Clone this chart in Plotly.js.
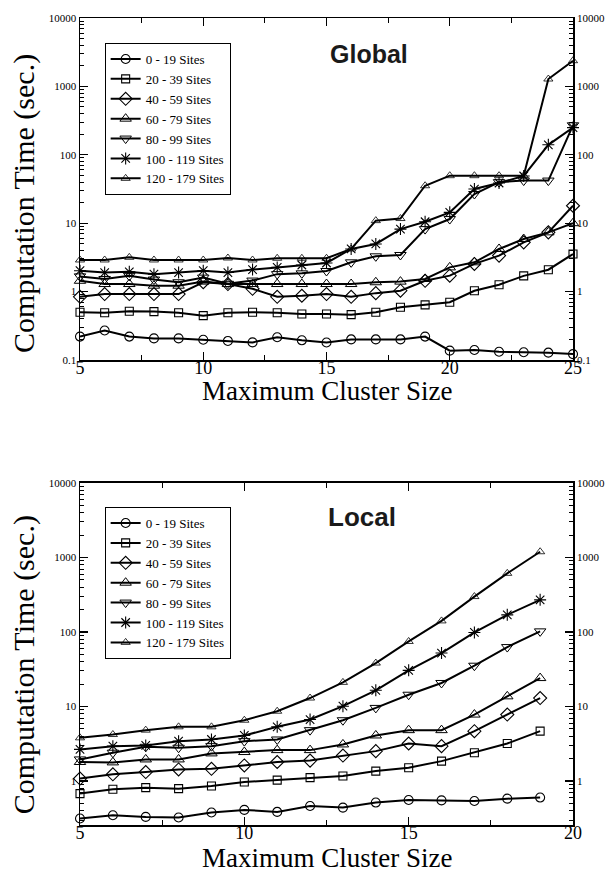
<!DOCTYPE html>
<html>
<head>
<meta charset="utf-8">
<script src="https://cdn.plot.ly/plotly-3.0.1.min.js"></script>
<style>html,body{margin:0;padding:0;background:#fff;}#chart{width:613px;height:871px;}</style>
</head>
<body>
<div id="chart"></div>
<script>
// ---------- DATA ----------
const seriesNames = ['0 - 19 Sites','20 - 39 Sites','40 - 59 Sites','60 - 79 Sites','80 - 99 Sites','100 - 119 Sites','120 - 179 Sites'];

// Global: maximum cluster size 5..25
const globalX = [5,6,7,8,9,10,11,12,13,14,15,16,17,18,19,20,21,22,23,24,25];
const global0_19    = [0.22,0.27,0.22,0.207,0.207,0.198,0.19,0.181,0.215,0.194,0.18,0.2,0.2,0.2,0.22,0.137,0.14,0.132,0.13,0.128,0.122];
const global20_39   = [0.5,0.49,0.515,0.51,0.49,0.445,0.49,0.5,0.49,0.47,0.47,0.46,0.5,0.59,0.64,0.70,1.03,1.26,1.7,2.09,3.55];
const global40_59   = [0.84,0.92,0.92,0.92,0.92,1.37,1.29,1.1,0.84,0.87,0.92,0.84,0.95,1.03,1.44,1.71,2.54,3.36,5.25,7.35,18];
const global60_79   = [1.44,1.29,1.29,1.22,1.22,1.4,1.29,1.29,1.29,1.29,1.29,1.29,1.37,1.4,1.53,2.26,2.68,4.2,5.87,7.35,10];
const global80_99   = [1.67,1.53,1.7,1.5,1.37,1.6,1.3,1.45,1.8,1.85,2.0,2.68,3.28,3.43,8.2,11.5,26.7,39.8,42,42,270];
const global100_119 = [2.02,1.9,1.95,1.8,1.9,2.02,1.9,2.1,2.26,2.45,2.62,4.2,4.97,8.2,10.5,14.4,31.6,38.7,49,140,250];
const global120_179 = [2.9,2.9,3.17,2.9,2.9,2.9,3.1,2.9,3.07,3.07,3.07,4.2,10.9,11.7,35.3,49.5,49.5,49.5,49.5,1282,2376];

// Local: maximum cluster size 5..19
const localX = [5,6,7,8,9,10,11,12,13,14,15,16,17,18,19];
const local0_19    = [0.314,0.347,0.33,0.324,0.378,0.41,0.385,0.463,0.44,0.514,0.557,0.55,0.54,0.58,0.6];
const local20_39   = [0.678,0.776,0.815,0.79,0.857,0.97,1.03,1.11,1.17,1.36,1.51,1.85,2.4,3.19,4.67];
const local40_59   = [1.08,1.23,1.32,1.43,1.46,1.62,1.8,1.88,2.2,2.52,3.19,2.94,4.67,7.8,13.0];
const local60_79   = [1.8,1.78,1.95,1.95,2.35,2.45,2.6,2.6,3.1,4.09,4.82,4.82,7.8,13.7,24.1];
const local80_99   = [1.95,2.4,2.88,2.8,2.94,3.43,3.61,4.82,6.55,9.58,14.4,20.7,35.3,62.8,102];
const local100_119 = [2.66,2.94,3.0,3.43,3.61,4.09,5.34,6.69,10.1,16.5,30.6,52.2,98.6,170,270];
const local120_179 = [3.8,4.21,4.82,5.34,5.34,6.55,8.65,13.0,21.1,38.3,74.7,141,299,613,1195];

const yTickVals = [0.1,1,10,100,1000,10000];
const yTickText = ['0.1','1','10','100','1000','10000'];
const xTicksGlobal = [5,10,15,20,25];
const xTicksLocal = [5,10,15,20];

const xTitle = 'Maximum Cluster Size';
const yTitle = 'Computation Time (sec.)';

// ---------- STYLE ----------
const symbols = ['circle-open','square-open','diamond-open','triangle-up-open','triangle-down-open','asterisk-open','triangle-up-open'];
const sizes = [9,8,10,10,10,10,8];
const mlw = [1.1,1.1,1.1,1.0,1.0,1.1,0.8];
const globalSeries = [global0_19,global20_39,global40_59,global60_79,global80_99,global100_119,global120_179];
const localSeries = [local0_19,local20_39,local40_59,local60_79,local80_99,local100_119,local120_179];

const traces = [];
globalSeries.forEach((ys,i)=>{
  traces.push({x:globalX,y:ys,name:seriesNames[i],type:'scatter',mode:'lines+markers',xaxis:'x',yaxis:'y',legend:'legend',
    line:{color:'black',width:2},marker:{symbol:symbols[i],size:sizes[i],color:'black',line:{color:'black',width:mlw[i]}},cliponaxis:false});
});
localSeries.forEach((ys,i)=>{
  traces.push({x:localX,y:ys,name:seriesNames[i],type:'scatter',mode:'lines+markers',xaxis:'x2',yaxis:'y2',legend:'legend2',
    line:{color:'black',width:2},marker:{symbol:symbols[i],size:sizes[i],color:'black',line:{color:'black',width:mlw[i]}},cliponaxis:false});
});
// invisible traces to hold the mirrored right-hand label axes
traces.push({x:globalX,y:global0_19,xaxis:'x',yaxis:'y3',mode:'markers',marker:{opacity:0},showlegend:false,hoverinfo:'skip'});
traces.push({x:localX,y:local0_19,xaxis:'x2',yaxis:'y4',mode:'markers',marker:{opacity:0},showlegend:false,hoverinfo:'skip'});

const serif = 'Liberation Serif';
function xAxis(range, ticks, anchor){
  return {anchor:anchor, domain:[0,1], range:range, tickmode:'array', tickvals:ticks,
    ticks:'inside', ticklen:8, tickwidth:1.2, tickcolor:'black',
    minor:{tick0:7.5, dtick:5, ticks:'inside', ticklen:5, tickwidth:1, tickcolor:'black'},
    showline:true, linecolor:'black', linewidth:1.5, mirror:'ticks', showgrid:false, zeroline:false,
    ticklabelstandoff:-9,
    tickfont:{family:serif,size:18,color:'black'}};
}
function yAxis(range, domain, anchor){
  return {type:'log', anchor:anchor, domain:domain, range:range, tickmode:'array', tickvals:yTickVals, ticktext:yTickText,
    ticks:'inside', ticklen:8, tickwidth:1.2, tickcolor:'black',
    minor:{dtick:'D1', ticks:'inside', ticklen:4, tickwidth:1, tickcolor:'black'},
    showline:true, linecolor:'black', linewidth:1.5, mirror:'ticks', showgrid:false, zeroline:false,
    tickfont:{family:serif,size:11,color:'black'}};
}
function yRight(range, over, anchor){
  return {type:'log', overlaying:over, anchor:anchor, side:'right', range:range, tickmode:'array', tickvals:yTickVals, ticktext:yTickText,
    ticks:'', showline:false, showgrid:false, zeroline:false, ticklabelstandoff:3,
    tickfont:{family:serif,size:11,color:'black'}};
}

const topDomain = [0.5762, 1];
const botDomain = [0, 0.4238];
const globalRange = [-1, 4];
const localRange = [-0.59, 4];

const legendStyle = (y)=>({x:0.05, y:y, xref:'paper', yref:'paper', xanchor:'left', yanchor:'top',
  bgcolor:'white', bordercolor:'black', borderwidth:1, font:{family:serif,size:13,color:'black'},
  itemwidth:30, tracegroupgap:0});

const titleFont = {family:serif, size:27, color:'black'};
const yTitleFont = {family:serif, size:30, color:'black'};
const panelFont = {family:'Liberation Sans', size:25, color:'#1a1a1a', weight:'bold'};

const layout = {
  width:613, height:871, paper_bgcolor:'white', plot_bgcolor:'white',
  font:{family:serif, color:'black'},
  margin:{l:80, r:40, t:18, b:46},
  showlegend:true,
  xaxis: xAxis([5,25], xTicksGlobal, 'y'),
  yaxis: yAxis(globalRange, topDomain, 'x'),
  yaxis3: yRight(globalRange, 'y', 'x'),
  xaxis2: xAxis([5,20], xTicksLocal, 'y2'),
  yaxis2: yAxis(localRange, botDomain, 'x2'),
  yaxis4: yRight(localRange, 'y2', 'x2'),
  legend: legendStyle(0.969),
  legend2: legendStyle(0.394),
  annotations:[
    {text:'Global', xref:'x domain', yref:'y domain', x:0.586, y:0.895, xanchor:'center', yanchor:'middle', showarrow:false, font:panelFont},
    {text:'Local', xref:'x2 domain', yref:'y2 domain', x:0.571, y:0.90, xanchor:'center', yanchor:'middle', showarrow:false, font:{...panelFont, size:26}},
    {text:xTitle, xref:'x domain', yref:'y domain', x:0.5, y:-0.0906, xanchor:'center', yanchor:'middle', showarrow:false, font:titleFont},
    {text:xTitle, xref:'x2 domain', yref:'y2 domain', x:0.5, y:-0.0965, xanchor:'center', yanchor:'middle', showarrow:false, font:titleFont},
    {text:yTitle, xref:'paper', yref:'y domain', x:-0.1136, y:0.459, xanchor:'center', yanchor:'middle', textangle:-90, showarrow:false, font:yTitleFont},
    {text:yTitle, xref:'paper', yref:'y2 domain', x:-0.1136, y:0.47, xanchor:'center', yanchor:'middle', textangle:-90, showarrow:false, font:yTitleFont}
  ]
};

Plotly.newPlot('chart', traces, layout, {displayModeBar:false, staticPlot:true});
</script>
</body>
</html>
